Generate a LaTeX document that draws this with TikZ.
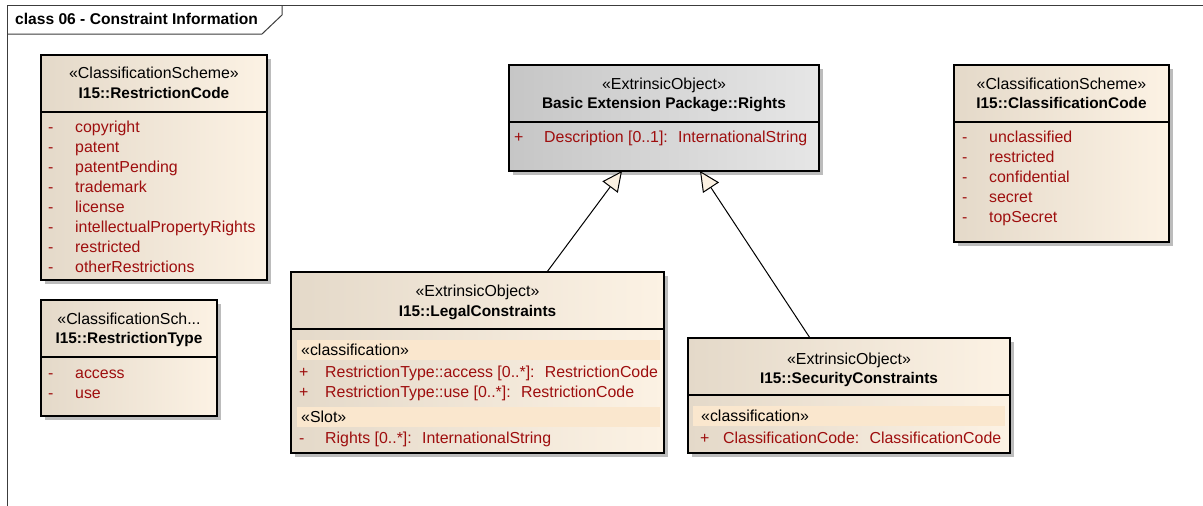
\documentclass[tikz,border=0pt]{standalone}
\usepackage{fontspec}
\setmainfont{Liberation Sans}
\usetikzlibrary{arrows.meta,backgrounds}

\definecolor{creamL}{RGB}{228,217,201}
\definecolor{creamR}{RGB}{252,242,228}
\definecolor{grayL}{RGB}{198,198,198}
\definecolor{grayR}{RGB}{230,230,230}
\definecolor{bandc}{RGB}{250,231,206}
\definecolor{attr}{RGB}{158,14,14}
\definecolor{headfill}{RGB}{251,241,226}
\definecolor{framec}{RGB}{60,60,60}
\definecolor{shadowc}{RGB}{188,188,188}

\tikzset{
  classbox/.style={draw=black, line width=1.3pt, inner sep=0pt, outer sep=0pt,
    anchor=north west, left color=creamL, right color=creamR},
  graybox/.style={classbox, left color=grayL, right color=grayR},
  stereo/.style={font=\fontsize{15.9}{18}\selectfont, inner sep=0pt, anchor=base},
  cname/.style={font=\bfseries\fontsize{15.4}{18}\selectfont, inner sep=0pt, anchor=base},
  attrtext/.style={font=\fontsize{15.9}{18}\selectfont, text=attr, inner sep=0pt, anchor=base west},
  comptext/.style={font=\fontsize{15.9}{18}\selectfont, inner sep=0pt, anchor=base west},
  sepline/.style={line width=1.3pt},
  band/.style={fill=bandc},
  gen/.style={line width=1pt, -{Triangle[length=20pt,width=19pt,fill=headfill]}},
}

\begin{document}
\begin{tikzpicture}[x=1pt,y=-1pt]
\useasboundingbox (0,0) rectangle (1203,506);

% diagram frame and title tab
\draw[framec, line width=1pt] (7,506) -- (7,5) -- (1203,5);
\draw[framec, line width=1pt] (7,34) -- (262,34) -- (282,15) -- (282,5);
\node[cname, anchor=base west, font=\bfseries\fontsize{15.6}{18}\selectfont] (title) at (15,24) {class 06 - Constraint Information};

% class boxes
\node[classbox, minimum width=226pt, minimum height=225pt] (rc) at (41,55) {};
\node[classbox, minimum width=176pt, minimum height=116pt] (rt) at (41,300) {};
\node[graybox, minimum width=310pt, minimum height=106pt] (rights) at (509,65) {};
\node[classbox, minimum width=215pt, minimum height=177pt] (cc) at (954,65) {};
\node[classbox, minimum width=373pt, minimum height=181pt] (legal) at (291,272) {};
\node[classbox, minimum width=322pt, minimum height=115pt] (sec) at (688,338) {};

% shadows behind the boxes
\begin{scope}[on background layer]
  \fill[white] (0,0) rectangle (1203,506);
  \foreach \b in {rc,rt,rights,cc,legal,sec}
    \fill[shadowc] ([shift={(4pt,-4pt)}]\b.north west) rectangle ([shift={(4pt,-4pt)}]\b.south east);
\end{scope}

% header separators
\foreach \b in {rc,rt,rights,cc,legal,sec}
  \draw[sepline] ([yshift=-57pt]\b.north west) -- ([yshift=-57pt]\b.north east);

% I15::RestrictionCode
\node[stereo] (rcS) at (154,78) {«ClassificationScheme»};
\node[cname] (rcN) at (154,98) {I15::RestrictionCode};
\foreach \t [count=\i] in {copyright,patent,patentPending,trademark,license,intellectualPropertyRights,restricted,otherRestrictions}{
  \node[attrtext] (rcd\i) at (48,{112+20*\i}) {-};
  \node[attrtext] (rca\i) at (75,{112+20*\i}) {\t};
}

% I15::RestrictionType
\node[stereo] (rtS) at (129,324) {«ClassificationSch...};
\node[cname] (rtN) at (129,343) {I15::RestrictionType};
\foreach \t [count=\i] in {access,use}{
  \node[attrtext] (rtd\i) at (48,{358+20*\i}) {-};
  \node[attrtext] (rta\i) at (75,{358+20*\i}) {\t};
}

% Basic Extension Package::Rights
\node[stereo] (riS) at (664,89) {«ExtrinsicObject»};
\node[cname] (riN) at (664,108) {Basic Extension Package::Rights};
\node[attrtext] (rip) at (514,142) {+};
\node[attrtext] (ria) at (544,142) {Description [0..1]: \ InternationalString};

% I15::ClassificationCode
\node[stereo] (ccS) at (1061.5,89) {«ClassificationScheme»};
\node[cname] (ccN) at (1061.5,108) {I15::ClassificationCode};
\foreach \t [count=\i] in {unclassified,restricted,confidential,secret,topSecret}{
  \node[attrtext] (ccd\i) at (962,{122+20*\i}) {-};
  \node[attrtext] (cca\i) at (989,{122+20*\i}) {\t};
}

% I15::LegalConstraints
\node[stereo] (lcS) at (477.5,296) {«ExtrinsicObject»};
\node[cname] (lcN) at (477.5,316) {I15::LegalConstraints};
\fill[band] (297,340) rectangle (660,360);
\node[comptext] (lcC) at (301,355) {«classification»};
\node[attrtext] (lcp1) at (299,377) {+};
\node[attrtext] (lca1) at (325,377) {RestrictionType::access [0..*]: \ RestrictionCode};
\node[attrtext] (lcp2) at (299,397) {+};
\node[attrtext] (lca2) at (325,397) {RestrictionType::use [0..*]: \ RestrictionCode};
\fill[band] (297,407) rectangle (660,427);
\node[comptext] (lcSl) at (301,422) {«Slot»};
\node[attrtext] (lcd3) at (299,443) {-};
\node[attrtext] (lca3) at (325,443) {Rights [0..*]: \ InternationalString};

% I15::SecurityConstraints
\node[stereo] (scS) at (849,364) {«ExtrinsicObject»};
\node[cname] (scN) at (849,383) {I15::SecurityConstraints};
\fill[band] (693,406) rectangle (1005,426);
\node[comptext] (scC) at (701,421) {«classification»};
\node[attrtext] (scp) at (700,443) {+};
\node[attrtext] (sca) at (723,443) {ClassificationCode: \ ClassificationCode};

% generalizations
\draw[gen] ([xshift=256pt]legal.north west) -- ([xshift=113pt]rights.south west);
\draw[gen] ([xshift=122pt]sec.north west) -- ([xshift=191pt]rights.south west);
\end{tikzpicture}
\end{document}
